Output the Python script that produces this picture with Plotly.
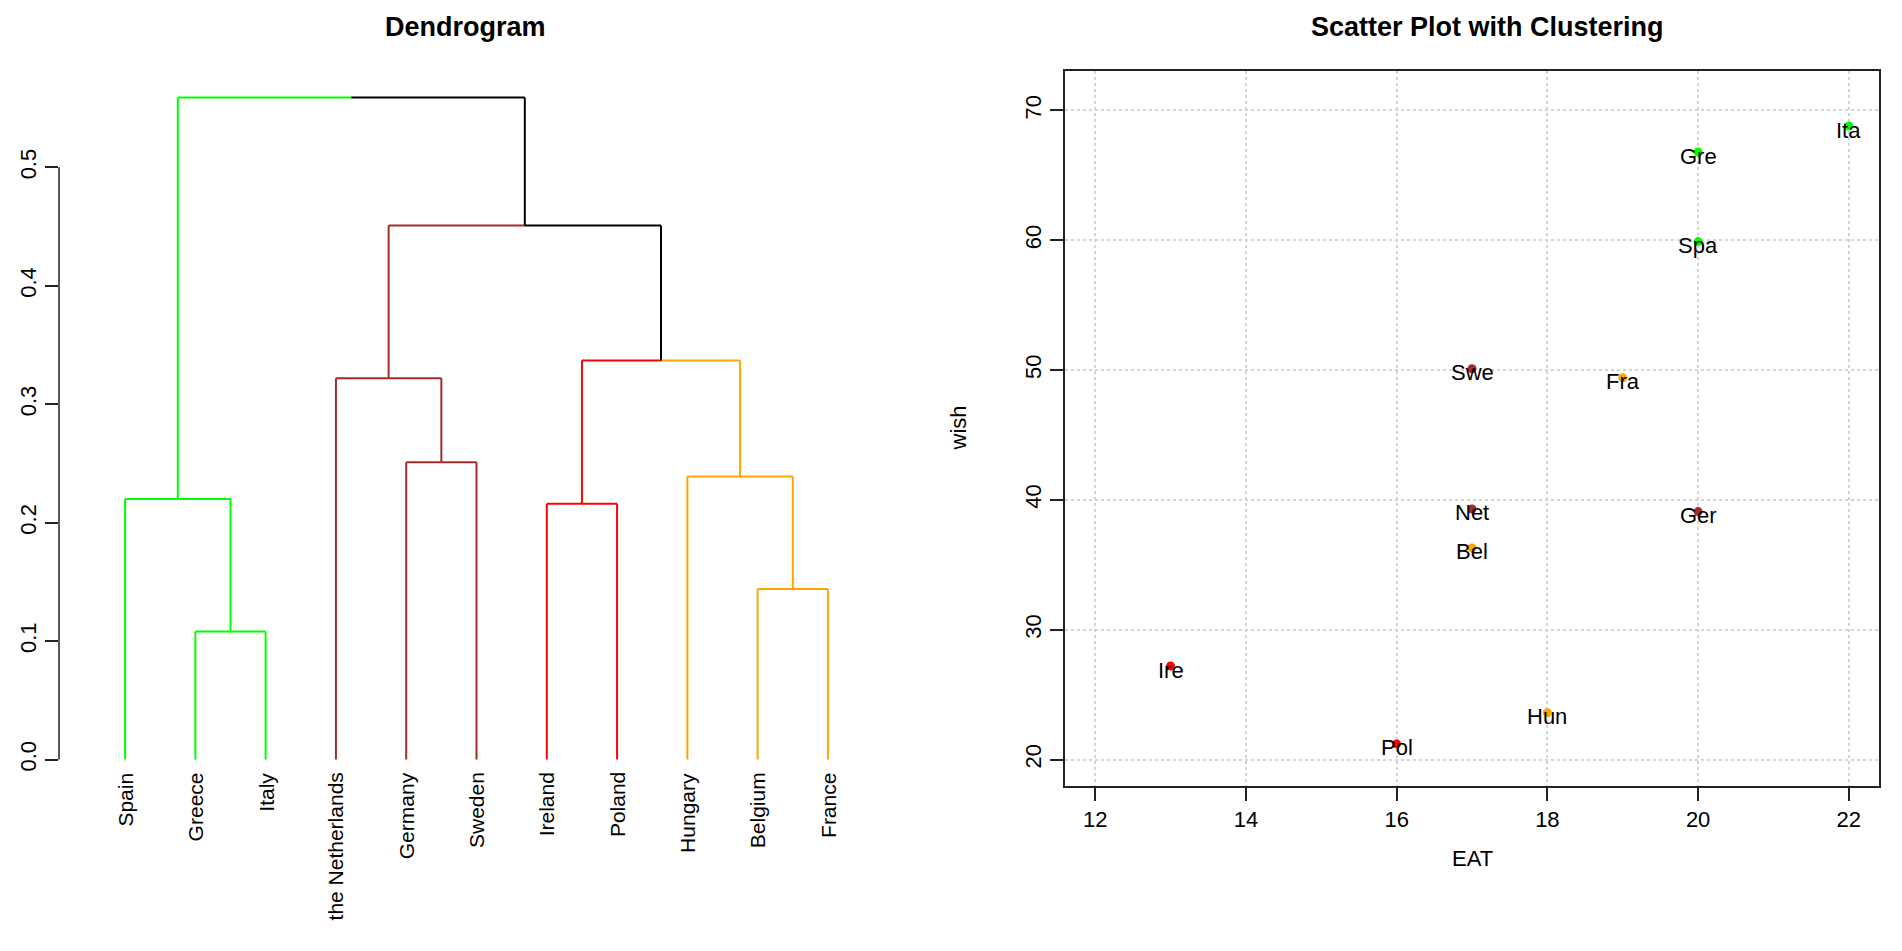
import plotly.graph_objects as go

# ---------------- data ----------------
leaf_labels = ["Spain", "Greece", "Italy", "the Netherlands", "Germany", "Sweden",
               "Ireland", "Poland", "Hungary", "Belgium", "France"]
# hclust-style merges: negative = leaf index (display order, 1-based), positive = earlier merge
merge_left = [-2, -10, -7, -1, -9, -5, -4, 3, 7, 4]
merge_right = [-3, -11, -8, 1, 2, -6, 6, 5, 8, 9]
merge_height = [0.108, 0.144, 0.216, 0.220, 0.239, 0.251, 0.322, 0.337, 0.451, 0.559]
leaf_cluster = [1, 1, 1, 2, 2, 2, 3, 3, 4, 4, 4]
cluster_colors = {1: "#00FF00", 2: "#A52A2A", 3: "#FF0000", 4: "#FFA500"}
dendro_yticks = [0.0, 0.1, 0.2, 0.3, 0.4, 0.5]

point_labels = ["Ita", "Gre", "Spa", "Swe", "Fra", "Net", "Ger", "Bel", "Ire", "Hun", "Pol"]
eat = [22, 20, 20, 17, 19, 17, 20, 17, 13, 18, 16]
wish = [68.8, 66.8, 59.9, 50.1, 49.4, 39.3, 39.1, 36.3, 27.2, 23.6, 21.2]
point_cluster = [1, 1, 1, 2, 4, 2, 2, 4, 3, 4, 3]
eat_ticks = [12, 14, 16, 18, 20, 22]
wish_ticks = [20, 30, 40, 50, 60, 70]

FONT = "Liberation Sans, Arial, sans-serif"
W, H = 1902, 951

# ---------------- dendrogram geometry from merges ----------------
def node_info(ref, merged):
    if ref < 0:
        k = -ref
        return k, 0.0, {leaf_cluster[k - 1]}
    return merged[ref - 1]

merged = []
segs = {}  # color -> (xs, ys)

def add_seg(color, x0, y0, x1, y1):
    xs, ys = segs.setdefault(color, ([], []))
    xs += [x0, x1, None]
    ys += [y0, y1, None]

def color_of(cl):
    return cluster_colors[next(iter(cl))] if len(cl) == 1 else "#000000"

for l, r, h in zip(merge_left, merge_right, merge_height):
    xl, hl, cl = node_info(l, merged)
    xr, hr, cr = node_info(r, merged)
    xm = (xl + xr) / 2
    for xc, hc, cc in ((xl, hl, cl), (xr, hr, cr)):
        col = color_of(cc)
        add_seg(col, xc, hc, xc, h)
        add_seg(col, xc, h, xm, h)
    merged.append((xm, h, cl | cr))

fig = go.Figure()
for col, (xs, ys) in segs.items():
    fig.add_trace(go.Scatter(x=xs, y=ys, mode="lines", line=dict(color=col, width=2),
                             xaxis="x", yaxis="y", showlegend=False, hoverinfo="skip"))

# ---------------- scatter ----------------
fig.add_trace(go.Scatter(
    x=eat, y=wish, mode="markers", text=point_labels,
    marker=dict(size=9, color=[cluster_colors[c] for c in point_cluster]),
    xaxis="x2", yaxis="y2", showlegend=False))
for xv, yv, lab in zip(eat, wish, point_labels):
    fig.add_annotation(x=xv, y=yv, xref="x2", yref="y2", text=lab, showarrow=False,
                       xanchor="center", yanchor="middle", yshift=-4,
                       font=dict(family=FONT, size=22, color="#000"))

# ---------------- layout ----------------
top_px, bot_px = 63, 778
ydom = [(H - bot_px) / H, (H - top_px) / H]
d_left, d_right = 51, 886
s_left, s_right = 1057, 1871

n = len(leaf_labels)
ymax = max(merge_height)
pad = 0.04 * ymax
axis_common = dict(ticks="outside", ticklen=13, tickwidth=1.5, tickcolor="#222",
                   tickfont=dict(family=FONT, size=22, color="#000"),
                   zeroline=False)

fig.update_layout(
    width=W, height=H, autosize=False,
    margin=dict(l=0, r=0, t=0, b=0),
    paper_bgcolor="white", plot_bgcolor="white",
    xaxis=dict(domain=[d_left / W, d_right / W], range=[0.06, n + 0.94],
               visible=False, showgrid=False, zeroline=False),
    yaxis=dict(domain=ydom, range=[-pad, ymax + pad], tickvals=dendro_yticks,
               tickformat=".1f", tickangle=-90, showgrid=False, showline=False,
               anchor="x", **axis_common),
    xaxis2=dict(domain=[s_left / W, s_right / W], range=[11.6, 22.4], tickvals=eat_ticks,
                showgrid=True, gridcolor="#D3D3D3", griddash="dot", gridwidth=1.5,
                showline=True, linecolor="#222", linewidth=1.5, mirror=True,
                ticklabelstandoff=0, anchor="y2", **axis_common),
    yaxis2=dict(domain=ydom, range=[17.96, 73.04], tickvals=wish_ticks, tickangle=-90,
                showgrid=True, gridcolor="#D3D3D3", griddash="dot", gridwidth=1.5,
                showline=True, linecolor="#222", linewidth=1.5, mirror=True,
                anchor="x2", **axis_common),
)

# dendrogram axis line spanning the tick range only
fig.add_shape(type="line", xref="x domain", yref="y", x0=0, x1=0,
              y0=dendro_yticks[0], y1=dendro_yticks[-1], line=dict(color="#222", width=1.5))

# leaf labels
for i, lab in enumerate(leaf_labels, start=1):
    fig.add_annotation(x=i, y=0, xref="x", yref="y", text=lab, showarrow=False,
                       textangle=-90, xanchor="center", yanchor="top", yshift=-11,
                       font=dict(family=FONT, size=21, color="#000"))

# titles & axis labels
fig.add_annotation(x=457 / W, y=1 - 19 / H, xref="paper", yref="paper",
                   text="<b>Dendrogram</b>", showarrow=False, xanchor="center",
                   font=dict(family=FONT, size=27, color="#000"), yanchor="middle")
fig.add_annotation(x=1479 / W, y=1 - 19 / H, xref="paper", yref="paper",
                   text="<b>Scatter Plot with Clustering</b>", showarrow=False,
                   xanchor="center", yanchor="middle",
                   font=dict(family=FONT, size=27, color="#000"))
fig.add_annotation(x=(s_left + s_right) / 2 / W, y=1 - 850 / H, xref="paper", yref="paper",
                   text="EAT", showarrow=False, xanchor="center", yanchor="middle",
                   font=dict(family=FONT, size=22, color="#000"))
fig.add_annotation(x=950 / W, y=1 - (top_px + bot_px) / 2 / H, xref="paper", yref="paper",
                   text="wish", showarrow=False, textangle=-90, xanchor="center",
                   yanchor="middle", font=dict(family=FONT, size=22, color="#000"))

fig.write_html("out.html")
